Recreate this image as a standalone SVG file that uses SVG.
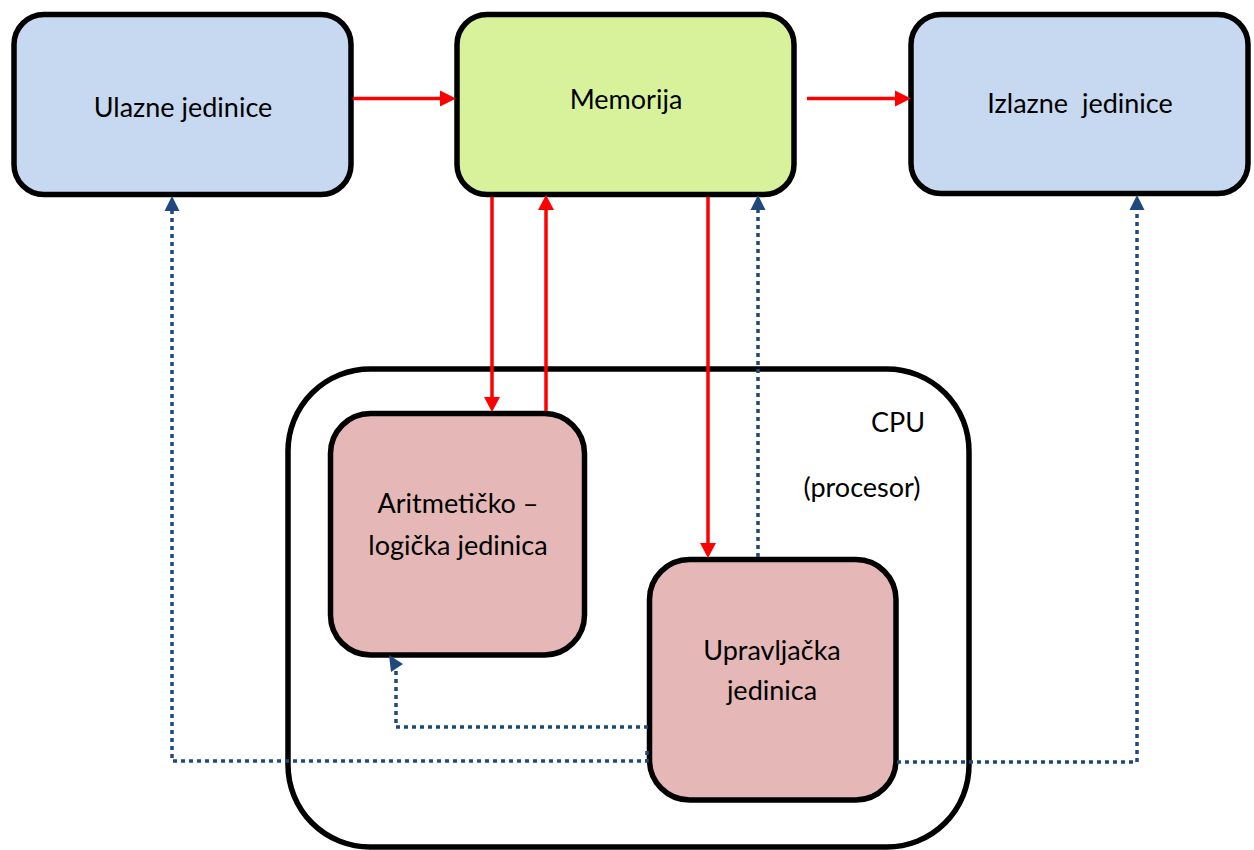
<svg xmlns="http://www.w3.org/2000/svg" width="1254" height="850" viewBox="0 0 1254 850">
<style>
.box{stroke:#000;stroke-width:5.5}
.blue{fill:#C6D9F1}
.green{fill:#D7F29B}
.pink{fill:#E5B8B7}
.cpu{fill:#fff;stroke:#000;stroke-width:5.5}
text{font-family:Lato,"Open Sans",sans-serif;font-size:27px;fill:#000;text-anchor:middle}
.red{stroke:#FF0000;stroke-width:3.5;fill:none}
.redh{fill:#FF0000}
.dot{stroke:#1F497D;stroke-width:3.5;fill:none;stroke-dasharray:4 4}
.doth{fill:#1F497D}
</style>
<rect width="1254" height="850" fill="#fff"/>
<g id="cpu">
<rect class="cpu" x="288" y="369" width="681" height="478" rx="82" ry="82"/>
<text x="898" y="432">CPU</text>
<text x="862" y="497">(procesor)</text>
</g>
<g id="ulazne">
<rect class="box blue" x="14" y="14.5" width="337" height="180" rx="30" ry="30"/>
<text x="183" y="117">Ulazne jedinice</text>
</g>
<g id="memorija">
<rect class="box green" x="457" y="14.5" width="337" height="180" rx="30" ry="30"/>
<text x="626" y="109">Memorija</text>
</g>
<g id="izlazne">
<rect class="box blue" x="911" y="14.5" width="337" height="179" rx="30" ry="30"/>
<text x="1080" y="113" xml:space="preserve">Izlazne  jedinice</text>
</g>
<g id="alu">
<rect class="box pink" x="330.5" y="413.5" width="254" height="241.5" rx="40" ry="40"/>
<text x="458" y="513">Aritmetičko –</text>
<text x="458" y="555">logička jedinica</text>
</g>
<g id="cu">
<rect class="box pink" x="649.5" y="559.5" width="246.5" height="240.5" rx="40" ry="40"/>
<text x="772" y="660">Upravljačka</text>
<text x="772" y="700">jedinica</text>
</g>
<g id="connectors">
<path class="red" d="M353,98.5 H441"/>
<polygon class="redh" points="440,90.5 456,98.5 440,106.5"/>
<path class="red" d="M807,98.5 H896"/>
<polygon class="redh" points="895,90.5 911,98.5 895,106.5"/>
<path class="red" d="M492,197 V398"/>
<polygon class="redh" points="484,397 492,412 500,397"/>
<path class="red" d="M546,411 V209"/>
<polygon class="redh" points="538,210 546,195 554,210"/>
<path class="red" d="M708,197 V544"/>
<polygon class="redh" points="700,543 708,558 716,543"/>
<path class="dot" d="M758,557 V210"/>
<polygon class="doth" points="750.5,210 758,195 765.5,210"/>
<path class="dot" d="M647,751 V761 H172 V211"/>
<polygon class="doth" points="164.5,211 172,196 179.5,211"/>
<path class="dot" d="M897,762 H1137 V210"/>
<polygon class="doth" points="1129.5,210 1137,195 1144.5,210"/>
<path class="dot" d="M648,727 H396 V670"/>
<polygon class="doth" points="389,655 403,664 391,672"/>
</g>
</svg>
